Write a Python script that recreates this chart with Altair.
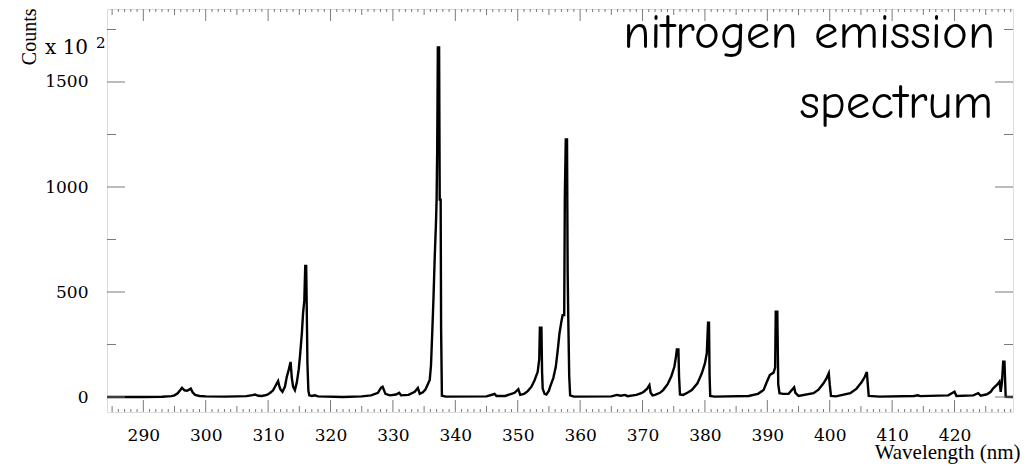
import altair as alt
import pandas as pd

# Spectrum samples (wavelength in nm, counts in units of 10^2)
wavelength = [
    284.2, 290.0, 293.0, 294.5, 295.0, 295.5, 295.9, 296.2, 296.6, 297.0, 297.4, 297.6,
    297.9, 298.3, 299.0, 300.0, 303.0, 305.0, 306.5, 307.5, 307.9, 308.4, 309.0, 309.8,
    310.3, 310.8, 311.1, 311.4, 311.6, 311.8, 312.0, 312.3, 312.7, 313.0, 313.3, 313.6,
    313.8, 314.0, 314.3, 314.6, 314.9, 315.1, 315.4, 315.6, 315.8, 315.95, 316.1, 316.2,
    316.3, 316.45, 316.6, 317.0, 317.5, 318.0, 322.0, 325.0, 326.5, 327.6, 328.1, 328.35,
    328.8, 329.5, 330.5, 331.0, 331.3, 332.5, 333.5, 334.0, 334.3, 334.8, 335.2, 335.5,
    335.9, 336.1, 336.3, 336.5, 336.7, 336.9, 337.0, 337.1, 337.2, 337.4, 337.5, 337.65,
    337.72, 337.85, 338.5, 345.0, 346.0, 346.3, 346.6, 348.0, 349.5, 350.1, 350.4, 351.0,
    351.6, 352.2, 352.7, 353.2, 353.45, 353.55, 353.8, 353.9, 354.0, 354.3, 354.6, 355.0,
    355.2, 355.7, 356.1, 356.4, 356.7, 357.0, 357.2, 357.45, 357.55, 357.7, 357.9, 358.0,
    358.1, 358.25, 358.4, 359.0, 365.0, 365.9, 366.5, 367.2, 367.6, 369.0, 369.8, 370.2,
    370.7, 371.1, 371.3, 371.6, 372.0, 372.8, 373.3, 374.0, 374.6, 375.1, 375.35, 375.5,
    375.75, 375.85, 376.0, 376.5, 377.2, 377.9, 378.8, 379.5, 380.0, 380.3, 380.5, 380.65,
    380.75, 380.85, 381.5, 387.0, 388.5, 389.4, 389.9, 390.4, 391.0, 391.25, 391.35, 391.6,
    391.75, 391.95, 392.5, 393.4, 394.3, 394.5, 395.0, 397.4, 398.2, 399.0, 399.5, 399.85,
    400.0, 400.2, 401.0, 403.3, 404.3, 405.1, 405.6, 405.95, 406.1, 406.25, 408.0, 413.5,
    414.1, 414.5, 419.0, 420.0, 420.3, 423.0, 423.8, 424.2, 425.2, 425.8, 426.2, 426.7,
    427.0, 427.2, 427.4, 427.6, 427.8, 428.0, 428.2, 429.4,
]
counts = [
    0, 0, 1, 4, 8, 18, 32, 44, 32, 30, 36, 40,
    22, 10, 5, 3, 2, 3, 4, 9, 12, 6, 5, 10,
    19, 32, 49, 65, 76, 50, 35, 25, 50, 97, 130, 167,
    90, 50, 33, 70, 130, 192, 300, 399, 460, 624, 624, 400,
    160, 30, 8, 5, 8, 3, 0, 3, 8, 20, 45, 49,
    15, 8, 12, 20, 8, 10, 25, 43, 15, 22, 35, 55,
    81, 150, 305, 470, 667, 830, 938, 1190, 1665, 1665, 940, 940,
    330, 6, 2, 3, 12, 15, 5, 5, 20, 37, 10, 15,
    28, 49, 80, 120, 180, 330, 330, 120, 40, 15, 12, 30,
    49, 90, 144, 220, 305, 360, 390, 390, 954, 1227, 1227, 600,
    376, 100, 8, 2, 3, 10, 6, 10, 4, 10, 18, 25,
    38, 57, 20, 8, 10, 20, 33, 60, 97, 144, 190, 227,
    227, 100, 12, 10, 20, 33, 65, 113, 160, 208, 354, 354,
    100, 5, 2, 5, 15, 33, 70, 105, 116, 140, 406, 406,
    60, 18, 15, 15, 46, 20, 5, 18, 35, 65, 90, 113,
    60, 5, 3, 18, 40, 70, 95, 119, 60, 5, 2, 5,
    8, 4, 8, 25, 5, 8, 18, 6, 13, 25, 41, 55,
    65, 73, 25, 70, 168, 168, 1, 0,
]

# Axis tick values
x_major = [290, 300, 310, 320, 330, 340, 350, 360, 370, 380, 390, 400, 410, 420]
x_mid = [285, 295, 305, 315, 325, 335, 345, 355, 365, 375, 385, 395, 405, 415, 425]
x_minor = [v for v in range(285, 430) if v % 5 != 0]
y_major = [0, 500, 1000, 1500]
y_minor = [250, 750, 1250, 1750]

W, H = 906, 403
X_DOMAIN = [284.18, 429.37]
Y_DOMAIN = [-71.4, 1847.6]
xs = alt.Scale(domain=X_DOMAIN, zero=False, nice=False)
ys = alt.Scale(domain=Y_DOMAIN, zero=False, nice=False)

TICK_COLOR = "#7a7a7a"
SERIF = "DejaVu Serif"
TIMES = "Liberation Serif"

x_axis = alt.Axis(values=x_major, ticks=False, tickSize=0, domain=False, grid=False,
                  format="d",
                  labelFont=SERIF, labelFontSize=17, labelColor="black",
                  labelBaseline="alphabetic", labelPadding=28, labelFlush=False,
                  title="Wavelength (nm)", titleFont=TIMES, titleFontSize=21,
                  titleFontWeight="normal", titleColor="black",
                  titleX=W + 7, titleY=46, titleAlign="right",
                  titleBaseline="alphabetic", titleAnchor="end")
y_axis = alt.Axis(values=y_major, ticks=False, tickSize=0, domain=False, grid=False,
                  format="d",
                  labelFont=SERIF, labelFontSize=17, labelColor="black",
                  labelPadding=19, labelFlush=False,
                  title="Counts", titleFont=TIMES, titleFontSize=20,
                  titleFontWeight="normal", titleColor="black",
                  titleAngle=270, titleX=-72, titleY=-1, titleAlign="right",
                  titleBaseline="alphabetic", titleAnchor="end")

spec_df = pd.DataFrame({"wl": wavelength, "c": counts})

line = alt.Chart(spec_df).mark_line(color="black", strokeWidth=2.4, clip=True).encode(
    x=alt.X("wl:Q", scale=xs, axis=x_axis, title="Wavelength (nm)"),
    y=alt.Y("c:Q", scale=ys, axis=y_axis, title="Counts"),
)


def xticks(vals, length):
    df = pd.DataFrame({"t": vals})
    bottom = alt.Chart(df).mark_rule(color=TICK_COLOR, strokeWidth=1).encode(
        x=alt.X("t:Q", scale=xs, axis=x_axis, title="Wavelength (nm)"),
        y=alt.value(H), y2=alt.value(H - length))
    top = alt.Chart(df).mark_rule(color=TICK_COLOR, strokeWidth=1).encode(
        x=alt.X("t:Q", scale=xs, axis=x_axis, title="Wavelength (nm)"),
        y=alt.value(0), y2=alt.value(length))
    return [bottom, top]


def yticks(vals, length):
    df = pd.DataFrame({"t": vals})
    left = alt.Chart(df).mark_rule(color=TICK_COLOR, strokeWidth=1).encode(
        y=alt.Y("t:Q", scale=ys, axis=y_axis, title="Counts"),
        x=alt.value(0), x2=alt.value(length))
    right = alt.Chart(df).mark_rule(color=TICK_COLOR, strokeWidth=1).encode(
        y=alt.Y("t:Q", scale=ys, axis=y_axis, title="Counts"),
        x=alt.value(W), x2=alt.value(W - length))
    return [left, right]


one = pd.DataFrame({"k": [0]})
TITLE_FONT = "Comic Sans MS, Comic Neue, Open Sans"
title1 = alt.Chart(one).mark_text(text="nitrogen emission", font=TITLE_FONT, fontSize=49,
                                  align="right", baseline="alphabetic", color="black").encode(
    x=alt.value(888), y=alt.value(39))
title2 = alt.Chart(one).mark_text(text="spectrum", font=TITLE_FONT, fontSize=49,
                                  align="right", baseline="alphabetic", color="black").encode(
    x=alt.value(886), y=alt.value(109))
mult = alt.Chart(one).mark_text(text="x 10", font=SERIF, fontSize=20, align="left",
                                baseline="alphabetic", color="black").encode(
    x=alt.value(-62), y=alt.value(45))
expo = alt.Chart(one).mark_text(text="2", font=SERIF, fontSize=15, align="left",
                                baseline="alphabetic", color="black").encode(
    x=alt.value(-11), y=alt.value(39))

layers = [line]
layers += xticks(x_major, 12) + xticks(x_mid, 6) + xticks(x_minor, 3)
layers += yticks(y_major, 18) + yticks(y_minor, 9)
layers += [title1, title2, mult, expo]

chart = alt.layer(*layers).properties(
    width=W, height=H,
    padding={"left": 99, "top": 1, "right": 9, "bottom": 55},
    autosize=alt.AutoSizeParams(type="none"),
).configure_view(stroke="#444", strokeWidth=1.2).configure(background="white")

chart.save("out.html", embed_options={"renderer": "svg", "actions": False})
